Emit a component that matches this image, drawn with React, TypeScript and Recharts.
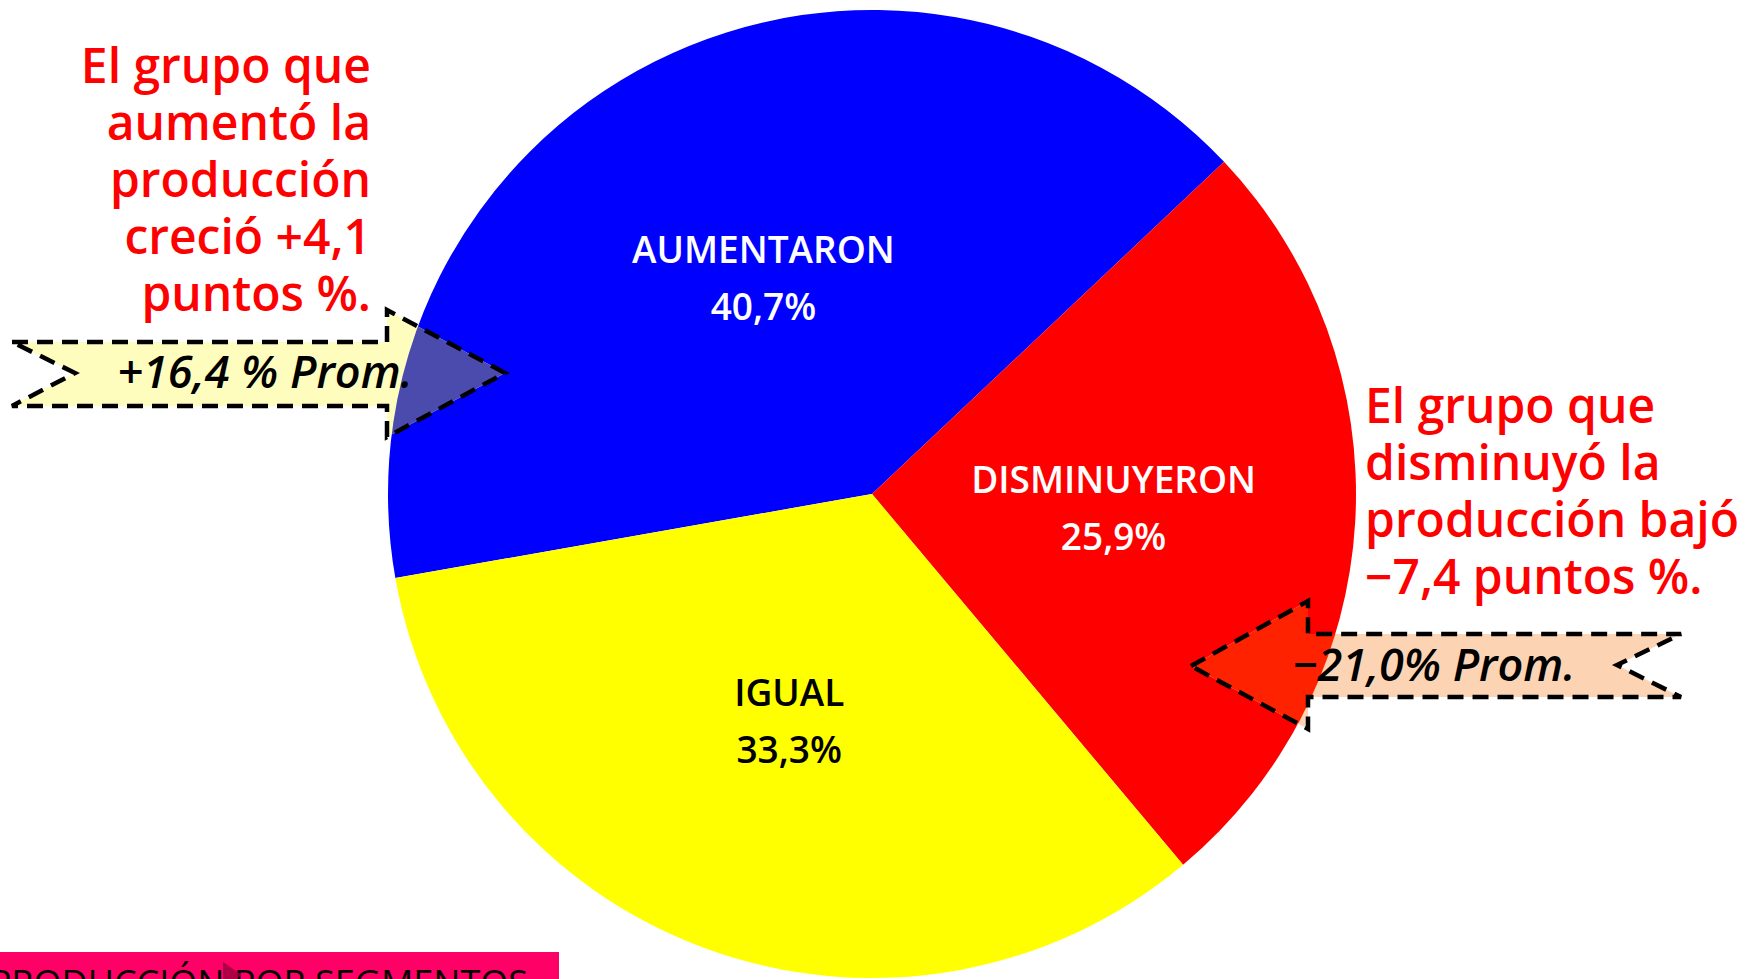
import React from "react";
import { PieChart, Pie, Cell } from "recharts";

// Slices of the pie (clockwise from the left)
const categories = ["AUMENTARON", "DISMINUYERON", "IGUAL"];
const shares = [40.7, 25.9, 33.3];
const sliceColors = ["#0000FF", "#FF0000", "#FFFF00"];
const labelColors = ["#FFFFFF", "#FFFFFF", "#000000"];

// Annotation texts
const leftNote = ["El grupo que", "aumentó la", "producción", "creció +4,1", "puntos %."];
const rightNote = ["El grupo que", "disminuyó la", "producción bajó", "−7,4 puntos %."];
const leftArrowText = "+16,4 % Prom.";
const rightArrowText = "−21,0% Prom.";
const footerText = "PRODUCCIÓN POR SEGMENTOS";

const W = 1746;
const H = 979;
const CX = 872;
const CY = 494;
const R = 484;
const FONT = "'Open Sans', 'DejaVu Sans', sans-serif";

const data = categories.map((name, i) => ({ name, value: shares[i] }));

const RAD = Math.PI / 180;

const renderLabel = (props: any) => {
  const { cx, cy, midAngle, outerRadius, name, value, index } = props;
  const r = outerRadius * 0.5;
  const x = cx + r * Math.cos(-midAngle * RAD);
  const y = cy + r * Math.sin(-midAngle * RAD);
  const color = labelColors[index];
  return (
    <g>
      <text x={x} y={y - 15} textAnchor="middle" fill={color} fontSize={37} fontWeight={600} fontFamily={FONT}>
        {name}
      </text>
      <text x={x} y={y + 42} textAnchor="middle" fill={color} fontSize={37} fontWeight={600} fontFamily={FONT}>
        {String(value).replace(".", ",") + "%"}
      </text>
    </g>
  );
};

const leftArrow = "12,342 387,342 387,310 505,373 387,437 387,406 12,406 75,373";
const rightArrow = "1191,666 1308,601 1308,634 1681,634 1617,665 1681,697 1308,697 1308,729";

export default function App() {
  return (
    <div style={{ position: "absolute", left: 0, top: 0, width: W, height: H, overflow: "hidden", background: "#fff" }}>
      <PieChart
        width={W}
        height={H}
        margin={{ top: 0, right: 0, bottom: 0, left: 0 }}
        style={{ position: "absolute", left: 0, top: 0 }}
      >
        <Pie
          data={data}
          dataKey="value"
          nameKey="name"
          cx={CX}
          cy={CY}
          outerRadius={R}
          startAngle={190}
          endAngle={-170}
          stroke="none"
          label={renderLabel}
          labelLine={false}
          isAnimationActive={false}
        >
          {data.map((d, i) => (
            <Cell key={d.name} fill={sliceColors[i]} />
          ))}
        </Pie>
      </PieChart>

      <svg width={W} height={H} style={{ position: "absolute", left: 0, top: 0, pointerEvents: "none" }}>
        <defs>
          <clipPath id="pieClip">
            <circle cx={CX} cy={CY} r={R} />
          </clipPath>
        </defs>

        {/* left annotation */}
        {leftNote.map((t, i) => (
          <text key={t} x={371} y={83 + i * 57} textAnchor="end" fill="#FF0000" fontSize={48} fontWeight={600} fontFamily={FONT}>
            {t}
          </text>
        ))}

        {/* right annotation */}
        {rightNote.map((t, i) => (
          <text key={t} x={1365} y={423 + i * 57} textAnchor="start" fill="#FF0000" fontSize={48} fontWeight={600} fontFamily={FONT}>
            {t}
          </text>
        ))}

        {/* left arrow */}
        <polygon points={leftArrow} fill="#FFFDBE" />
        <polygon points={leftArrow} fill="#4B4BAD" clipPath="url(#pieClip)" />
        <polygon points={leftArrow} fill="none" stroke="#000" strokeWidth={4.5} strokeDasharray="16 9" />
        <text x={265} y={388} textAnchor="middle" fontStyle="italic" fontWeight={600} fontSize={45} fontFamily={FONT} fill="#000">
          {leftArrowText}
        </text>

        {/* right arrow */}
        <polygon points={rightArrow} fill="#FCD4B4" />
        <polygon points={rightArrow} fill="#FF2200" clipPath="url(#pieClip)" />
        <polygon points={rightArrow} fill="none" stroke="#000" strokeWidth={4.5} strokeDasharray="16 9" />
        <text x={1434} y={681} textAnchor="middle" fontStyle="italic" fontWeight={600} fontSize={45} fontFamily={FONT} fill="#000">
          {rightArrowText}
        </text>

        {/* footer bar */}
        <rect x={0} y={952} width={559} height={27} fill="#FF0066" />
        <text x={528} y={996} textAnchor="end" fontSize={36} fontWeight={500} fontFamily={FONT} fill="#000">
          {footerText}
        </text>
        <polygon points="223,962 242,975 223,988" fill="#99003D" opacity={0.8} />
      </svg>
    </div>
  );
}
